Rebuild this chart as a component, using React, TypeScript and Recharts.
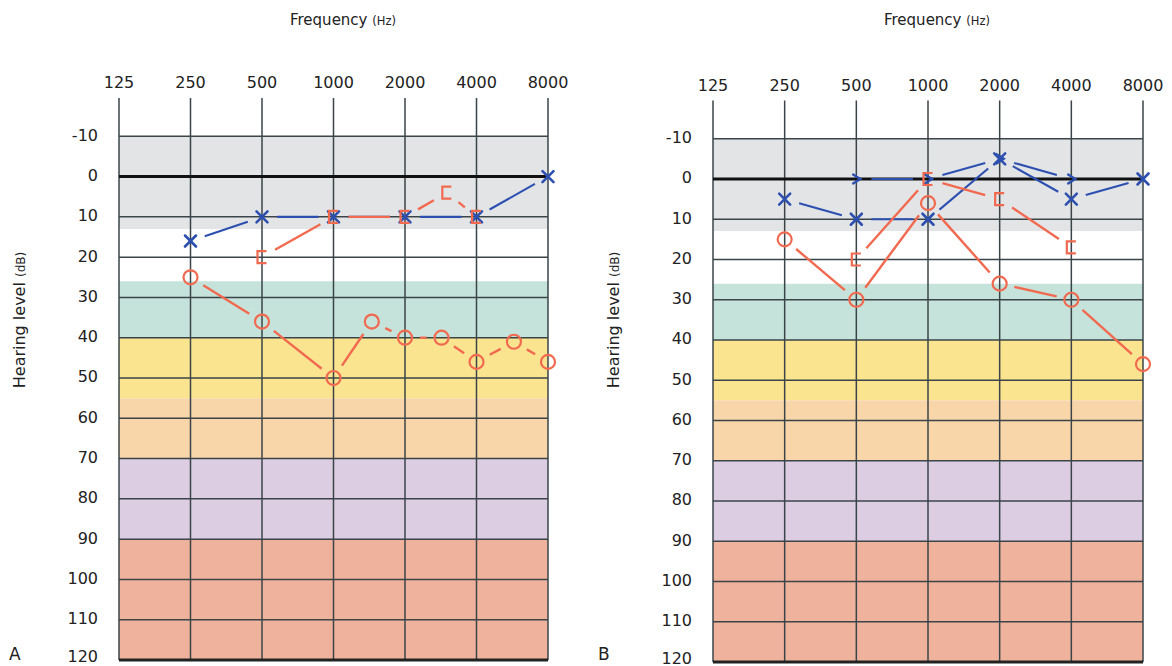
import React from "react";
import { Line, LineChart, ReferenceArea, ReferenceLine, XAxis, YAxis } from "recharts";

const frequencies = [125, 250, 500, 1000, 2000, 4000, 8000];
const levels = [-10, 0, 10, 20, 30, 40, 50, 60, 70, 80, 90, 100, 110, 120];

// hearing-loss bands (dB HL)
const bandFrom = [-10, 13, 26, 40, 55, 70, 90];
const bandTo = [13, 26, 40, 55, 70, 90, 120];
const bandColors = ["#e3e4e6", "#ffffff", "#c5e3da", "#fbe48f", "#f9d6a9", "#ddcde3", "#efb29c"];

// panel A
const aCrossFreq = [250, 500, 1000, 2000, 4000, 8000];
const aCrossDb = [16, 10, 10, 10, 10, 0];
const aBracketFreq = [500, 1000, 2000, 3000, 4000];
const aBracketDb = [20, 10, 10, 4, 10];
const aCircleFreq = [250, 500, 1000, 1450, 2000, 2850, 4000, 5750, 8000];
const aCircleDb = [25, 36, 50, 36, 40, 40, 46, 41, 46];

// panel B
const bCrossFreq = [250, 500, 1000, 2000, 4000, 8000];
const bCrossDb = [5, 10, 10, -5, 5, 0];
const bChevronFreq = [500, 1000, 2000, 4000];
const bChevronDb = [0, 0, -5, 0];
const bBracketFreq = [500, 1000, 2000, 4000];
const bBracketDb = [20, 0, 5, 17];
const bCircleFreq = [250, 500, 1000, 2000, 4000, 8000];
const bCircleDb = [15, 30, 6, 26, 30, 46];

const BLUE = "#2d50b0";
const RED = "#f16a50";
const GRID = "#3a4449";
const FONT = "'DejaVu Sans', Verdana, sans-serif";

type Marker = "cross" | "circle" | "bracket" | "chevron";

interface Series {
  freq: number[];
  db: number[];
  marker: Marker;
  color: string;
}

const zip = (freq: number[], db: number[]) => freq.map((f, i) => ({ freq: f, db: db[i] }));

function markerShape(marker: Marker, cx: number, cy: number, color: string) {
  if (marker === "cross") {
    return (
      <g stroke={color} strokeWidth={2.6} strokeLinecap="round">
        <line x1={cx - 5.5} y1={cy - 5.5} x2={cx + 5.5} y2={cy + 5.5} />
        <line x1={cx - 5.5} y1={cy + 5.5} x2={cx + 5.5} y2={cy - 5.5} />
      </g>
    );
  }
  if (marker === "circle") {
    return <circle cx={cx} cy={cy} r={7} fill="none" stroke={color} strokeWidth={2.2} />;
  }
  if (marker === "bracket") {
    return (
      <path
        d={`M${cx + 4.5},${cy - 6}H${cx - 4.5}V${cy + 6}H${cx + 4.5}`}
        fill="none"
        stroke={color}
        strokeWidth={2.2}
      />
    );
  }
  return (
    <path
      d={`M${cx - 4},${cy - 5}L${cx + 4},${cy}L${cx - 4},${cy + 5}`}
      fill="none"
      stroke={color}
      strokeWidth={2.4}
    />
  );
}

// draws the marker plus a gapped segment to the next point
function makeDot(s: Series, gap = 15) {
  return (p: any) => {
    const { cx, cy, index, points } = p;
    const next = points && points[index + 1];
    let seg = null;
    if (next && next.x != null && next.y != null) {
      const dx = next.x - cx;
      const dy = next.y - cy;
      const len = Math.hypot(dx, dy);
      if (len > gap * 2) {
        const ux = dx / len;
        const uy = dy / len;
        seg = (
          <line
            x1={cx + ux * gap}
            y1={cy + uy * gap}
            x2={next.x - ux * gap}
            y2={next.y - uy * gap}
            stroke={s.color}
            strokeWidth={s.color === RED ? 2.4 : 2.1}
          />
        );
      }
    }
    return (
      <g key={`dot-${s.marker}-${index}`}>
        {seg}
        {markerShape(s.marker, cx, cy, s.color)}
      </g>
    );
  };
}

function LevelTick({ x, y, payload }: any) {
  const v = payload.value;
  return (
    <text
      x={x}
      y={y + (v === 120 ? -4 : -1)}
      textAnchor="end"
      dominantBaseline="central"
      fontSize={16}
      fill="#222"
      fontFamily={FONT}
    >
      {v}
    </text>
  );
}

function Audiogram({ series, top, bottom, right }: { series: Series[]; top: number; bottom: number; right: number }) {
  return (
    <LineChart width={590} height={666} margin={{ top, right, bottom, left: 59 }}>
      {bandFrom.map((from, i) => (
        <ReferenceArea key={`band-${i}`} y1={from} y2={bandTo[i]} fill={bandColors[i]} fillOpacity={1} stroke="none" />
      ))}
      {frequencies.map((f) => (
        <ReferenceLine key={`vx-${f}`} x={f} stroke={GRID} strokeWidth={1.5} />
      ))}
      {levels.map((l) => (
        <ReferenceLine
          key={`hy-${l}`}
          y={l}
          stroke={l === 0 ? "#111" : l === 120 ? "#222" : GRID}
          strokeWidth={l === 0 || l === 120 ? 3 : 1.5}
        />
      ))}
      <XAxis
        dataKey="freq"
        type="number"
        scale="log"
        domain={[125, 8000]}
        ticks={frequencies}
        interval={0}
        orientation="top"
        height={40}
        axisLine={false}
        tickLine={false}
        tickSize={0}
        tickMargin={10}
        tick={{ fontSize: 16, fill: "#222", fontFamily: FONT }}
      />
      <YAxis
        type="number"
        domain={[-19.5, 120]}
        reversed
        ticks={levels}
        interval={0}
        width={60}
        axisLine={false}
        tickLine={false}
        tickSize={0}
        tickMargin={21}
        tick={<LevelTick />}
      />
      {series.map((s, i) => (
        <Line
          key={`s-${i}`}
          data={zip(s.freq, s.db)}
          dataKey="db"
          stroke="transparent"
          strokeWidth={0}
          dot={makeDot(s)}
          activeDot={false}
          isAnimationActive={false}
        />
      ))}
    </LineChart>
  );
}

const seriesA: Series[] = [
  { freq: aCrossFreq, db: aCrossDb, marker: "cross", color: BLUE },
  { freq: aBracketFreq, db: aBracketDb, marker: "bracket", color: RED },
  { freq: aCircleFreq, db: aCircleDb, marker: "circle", color: RED },
];

const seriesB: Series[] = [
  { freq: bCrossFreq, db: bCrossDb, marker: "cross", color: BLUE },
  { freq: bChevronFreq, db: bChevronDb, marker: "chevron", color: BLUE },
  { freq: bBracketFreq, db: bBracketDb, marker: "bracket", color: RED },
  { freq: bCircleFreq, db: bCircleDb, marker: "circle", color: RED },
];

const abs = (left: number, top: number, extra: React.CSSProperties = {}): React.CSSProperties => ({
  position: "absolute",
  left,
  top,
  whiteSpace: "nowrap",
  lineHeight: 1,
  fontFamily: FONT,
  color: "#222",
  ...extra,
});

function Titles({ dx }: { dx: number }) {
  return (
    <>
      <div style={abs(290 + dx, 13, { fontSize: 15 })}>
        Frequency <span style={{ fontSize: 11.5 }}>(Hz)</span>
      </div>
      <div style={abs(20 + dx, 320, { fontSize: 16, transform: "translate(-50%, -50%) rotate(-90deg)" })}>
        Hearing level <span style={{ fontSize: 12 }}>(dB)</span>
      </div>
    </>
  );
}

export default function App() {
  return (
    <div style={{ position: "absolute", left: 0, top: 0, width: 1172, height: 666, background: "#fff", overflow: "hidden" }}>
      <div style={{ position: "absolute", left: 0, top: 0 }}>
        <Audiogram series={seriesA} top={58} bottom={6} right={42} />
      </div>
      <div style={{ position: "absolute", left: 594, top: 0 }}>
        <Audiogram series={seriesB} top={60.5} bottom={4} right={41} />
      </div>
      <Titles dx={0} />
      <Titles dx={594} />
      <div style={abs(9, 646, { fontSize: 17 })}>A</div>
      <div style={abs(598, 646, { fontSize: 17 })}>B</div>
    </div>
  );
}
